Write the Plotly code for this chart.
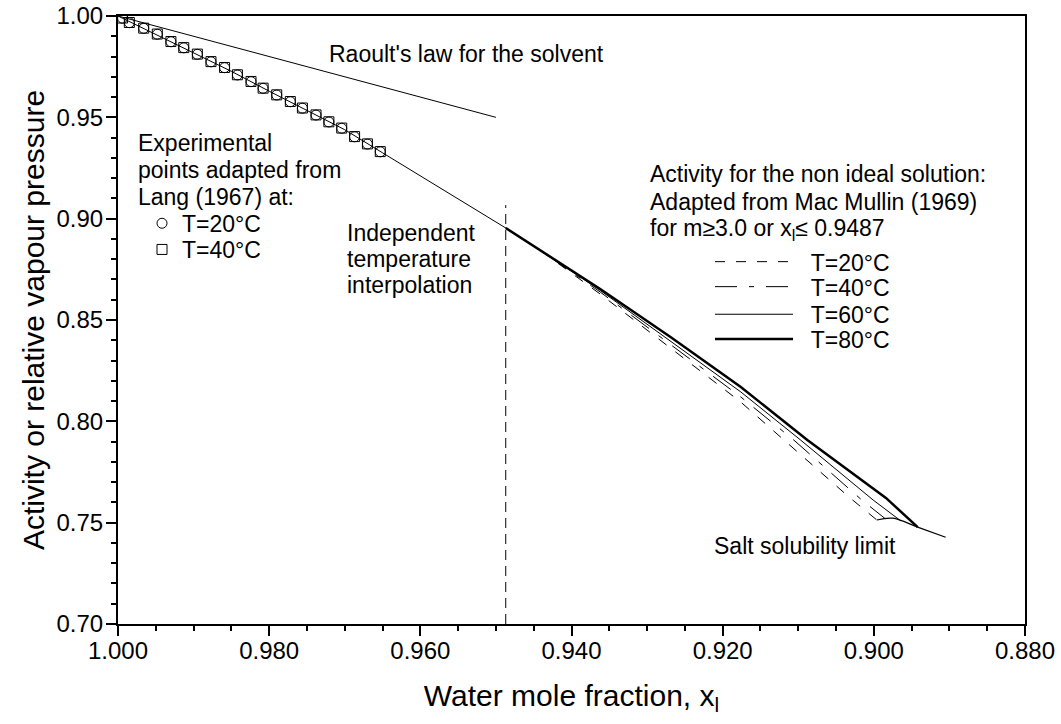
import plotly.graph_objects as go

# ---------------- data ----------------
# Raoult's law for the solvent
x_raoult = [1.000, 0.950]
y_raoult = [1.000, 0.950]

# common activity curve (dilute region, up to x = 0.9487)
x_main = [1.000, 0.995, 0.990, 0.985, 0.980, 0.975, 0.970, 0.965, 0.960, 0.955, 0.9487]
y_main = [1.000, 0.9910, 0.9820, 0.9727, 0.9629, 0.9534, 0.9439, 0.9325, 0.9211, 0.9097, 0.8954]

# experimental points, Lang (1967)
x_exp = [0.9994, 0.9985, 0.9966, 0.9948, 0.9930, 0.9913, 0.9895, 0.9877, 0.9859, 0.9842,
         0.9824, 0.9808, 0.9790, 0.9772, 0.9756, 0.9738, 0.9721, 0.9704, 0.9687, 0.9670, 0.9653]
y_exp20 = [0.9989, 0.9967, 0.9939, 0.9910, 0.9873, 0.9843, 0.9811, 0.9774, 0.9745, 0.9709,
           0.9676, 0.9643, 0.9610, 0.9577, 0.9545, 0.9511, 0.9477, 0.9446, 0.9404, 0.9368, 0.9330]
y_exp40 = [0.9990, 0.9968, 0.9940, 0.9911, 0.9874, 0.9844, 0.9812, 0.9775, 0.9746, 0.9710,
           0.9677, 0.9644, 0.9611, 0.9578, 0.9546, 0.9512, 0.9478, 0.9447, 0.9405, 0.9369, 0.9331]

# non ideal solution, Mac Mullin (1969), m >= 3.0
x_t20 = [0.9487, 0.9442, 0.9362, 0.9269, 0.9176, 0.9119, 0.9033, 0.8996]
y_t20 = [0.8954, 0.8845, 0.8628, 0.8362, 0.8095, 0.7908, 0.7627, 0.7513]
x_t40 = [0.9487, 0.9442, 0.9362, 0.9269, 0.9176, 0.9106, 0.9016, 0.8985]
y_t40 = [0.8954, 0.8845, 0.8638, 0.8377, 0.8120, 0.7908, 0.7612, 0.7520]
x_t60 = [0.9487, 0.9442, 0.9362, 0.9269, 0.9176, 0.9097, 0.9001, 0.8964]
y_t60 = [0.8954, 0.8845, 0.8646, 0.8396, 0.8145, 0.7908, 0.7612, 0.7508]
x_t80 = [0.9487, 0.9442, 0.9362, 0.9269, 0.9176, 0.9088, 0.8984, 0.8942]
y_t80 = [0.8954, 0.8845, 0.8653, 0.8416, 0.8169, 0.7908, 0.7622, 0.7478]

# salt solubility limit
x_salt = [0.8996, 0.8975, 0.8942, 0.8905]
y_salt = [0.7513, 0.7522, 0.7478, 0.7428]

# independent temperature interpolation boundary
x_bound = [0.9487, 0.9487]
y_bound = [0.700, 0.9067]

FONT = "Arial, Liberation Sans, sans-serif"
BLACK = "#000000"
SP = "\u00a0\u00a0"

fig = go.Figure()

fig.add_trace(go.Scatter(x=x_raoult, y=y_raoult, mode="lines",
                         line=dict(color=BLACK, width=1), showlegend=False))
fig.add_trace(go.Scatter(x=x_main, y=y_main, mode="lines",
                         line=dict(color=BLACK, width=1), showlegend=False))
fig.add_trace(go.Scatter(x=x_bound, y=y_bound, mode="lines",
                         line=dict(color=BLACK, width=1, dash="10px,6px"), showlegend=False))

fig.add_trace(go.Scatter(x=x_exp, y=y_exp20, mode="markers", name="T=20°C",
                         marker=dict(symbol="circle-open", size=10, color=BLACK,
                                     line=dict(width=1, color=BLACK)), legend="legend"))
fig.add_trace(go.Scatter(x=x_exp, y=y_exp40, mode="markers", name="T=40°C",
                         marker=dict(symbol="square-open", size=10, color=BLACK,
                                     line=dict(width=1, color=BLACK)), legend="legend2"))

fig.add_trace(go.Scatter(x=x_t20, y=y_t20, mode="lines", name=SP + "T=20°C",
                         line=dict(color=BLACK, width=1, dash="10px,11px"), legend="legend3"))
fig.add_trace(go.Scatter(x=x_t40, y=y_t40, mode="lines", name=SP + "T=40°C",
                         line=dict(color=BLACK, width=1, dash="22px,12px,5px,12px"), legend="legend4"))
fig.add_trace(go.Scatter(x=x_t60, y=y_t60, mode="lines", name=SP + "T=60°C",
                         line=dict(color=BLACK, width=1), legend="legend5"))
fig.add_trace(go.Scatter(x=x_t80, y=y_t80, mode="lines", name=SP + "T=80°C",
                         line=dict(color=BLACK, width=2.5), legend="legend6"))
fig.add_trace(go.Scatter(x=x_salt, y=y_salt, mode="lines", line_shape="spline",
                         line=dict(color=BLACK, width=1.2), showlegend=False))

# plot area in pixels: x 118..1025, y 16..624
def px_paper_x(px):
    return (px - 118) / 907.0

def px_paper_y(py):
    return (624 - py) / 608.0

leg_common = dict(bgcolor="rgba(0,0,0,0)", borderwidth=0, xanchor="left", yanchor="middle",
                  font=dict(family=FONT, size=23, color=BLACK))
marker_leg = dict(leg_common, itemwidth=30)
line_leg = dict(leg_common, itemwidth=78)

annotations = []

def note(text, px, py):
    annotations.append(dict(text=text, xref="paper", yref="paper",
                            x=px_paper_x(px), y=px_paper_y(py), xanchor="left", yanchor="middle",
                            showarrow=False, font=dict(family=FONT, size=23, color=BLACK)))

note("Raoult's law for the solvent", 327, 54)
note("Experimental", 136, 143.5)
note("points adapted from", 136, 170.3)
note("Lang (1967) at:", 136, 197)
note("Independent", 345, 233)
note("temperature", 345, 259)
note("interpolation", 345, 285)
note("Activity for the non ideal solution:", 648, 173.5)
note("Adapted from Mac Mullin (1969)", 648, 201.5)
note("for m≥3.0 or x<sub>l</sub>≤ 0.9487", 648, 229.5)
note("Salt solubility limit", 712, 546)

axis_common = dict(showline=True, linewidth=2, linecolor=BLACK, mirror=True, automargin=False,
                   showgrid=False, zeroline=False, ticks="outside", tickwidth=1.5,
                   tickcolor=BLACK, tickfont=dict(family=FONT, size=24, color=BLACK))

fig.update_layout(
    template="none",
    width=1061, height=724,
    margin=dict(l=118, r=36, t=16, b=100, autoexpand=False),
    paper_bgcolor="white", plot_bgcolor="white",
    font=dict(family=FONT, color=BLACK),
    xaxis=dict(axis_common, range=[1.0, 0.88], tick0=0.88, dtick=0.02, tickformat=".3f",
               ticklen=10, ticklabelstandoff=-6,
               minor=dict(dtick=0.005, ticklen=5, ticks="outside", tickwidth=1.5, tickcolor=BLACK),
               title=dict(text="Water mole fraction, x<sub>l</sub>",
                          font=dict(family=FONT, size=30, color=BLACK), standoff=22)),
    yaxis=dict(axis_common, range=[0.70, 1.00], tick0=0.70, dtick=0.05, tickformat=".2f",
               ticklen=10, ticklabelstandoff=-2,
               minor=dict(dtick=0.01, ticklen=5, ticks="outside", tickwidth=1.5, tickcolor=BLACK),
               title=dict(text="Activity or relative vapour pressure",
                          font=dict(family=FONT, size=30, color=BLACK), standoff=3)),
    legend=dict(marker_leg, x=px_paper_x(142), y=px_paper_y(223.3)),
    legend2=dict(marker_leg, x=px_paper_x(142), y=px_paper_y(249.5)),
    legend3=dict(line_leg, x=px_paper_x(710), y=px_paper_y(261.7)),
    legend4=dict(line_leg, x=px_paper_x(710), y=px_paper_y(286.7)),
    legend5=dict(line_leg, x=px_paper_x(710), y=px_paper_y(314.3)),
    legend6=dict(line_leg, x=px_paper_x(710), y=px_paper_y(339)),
    annotations=annotations,
)

fig.write_html("out.html")
